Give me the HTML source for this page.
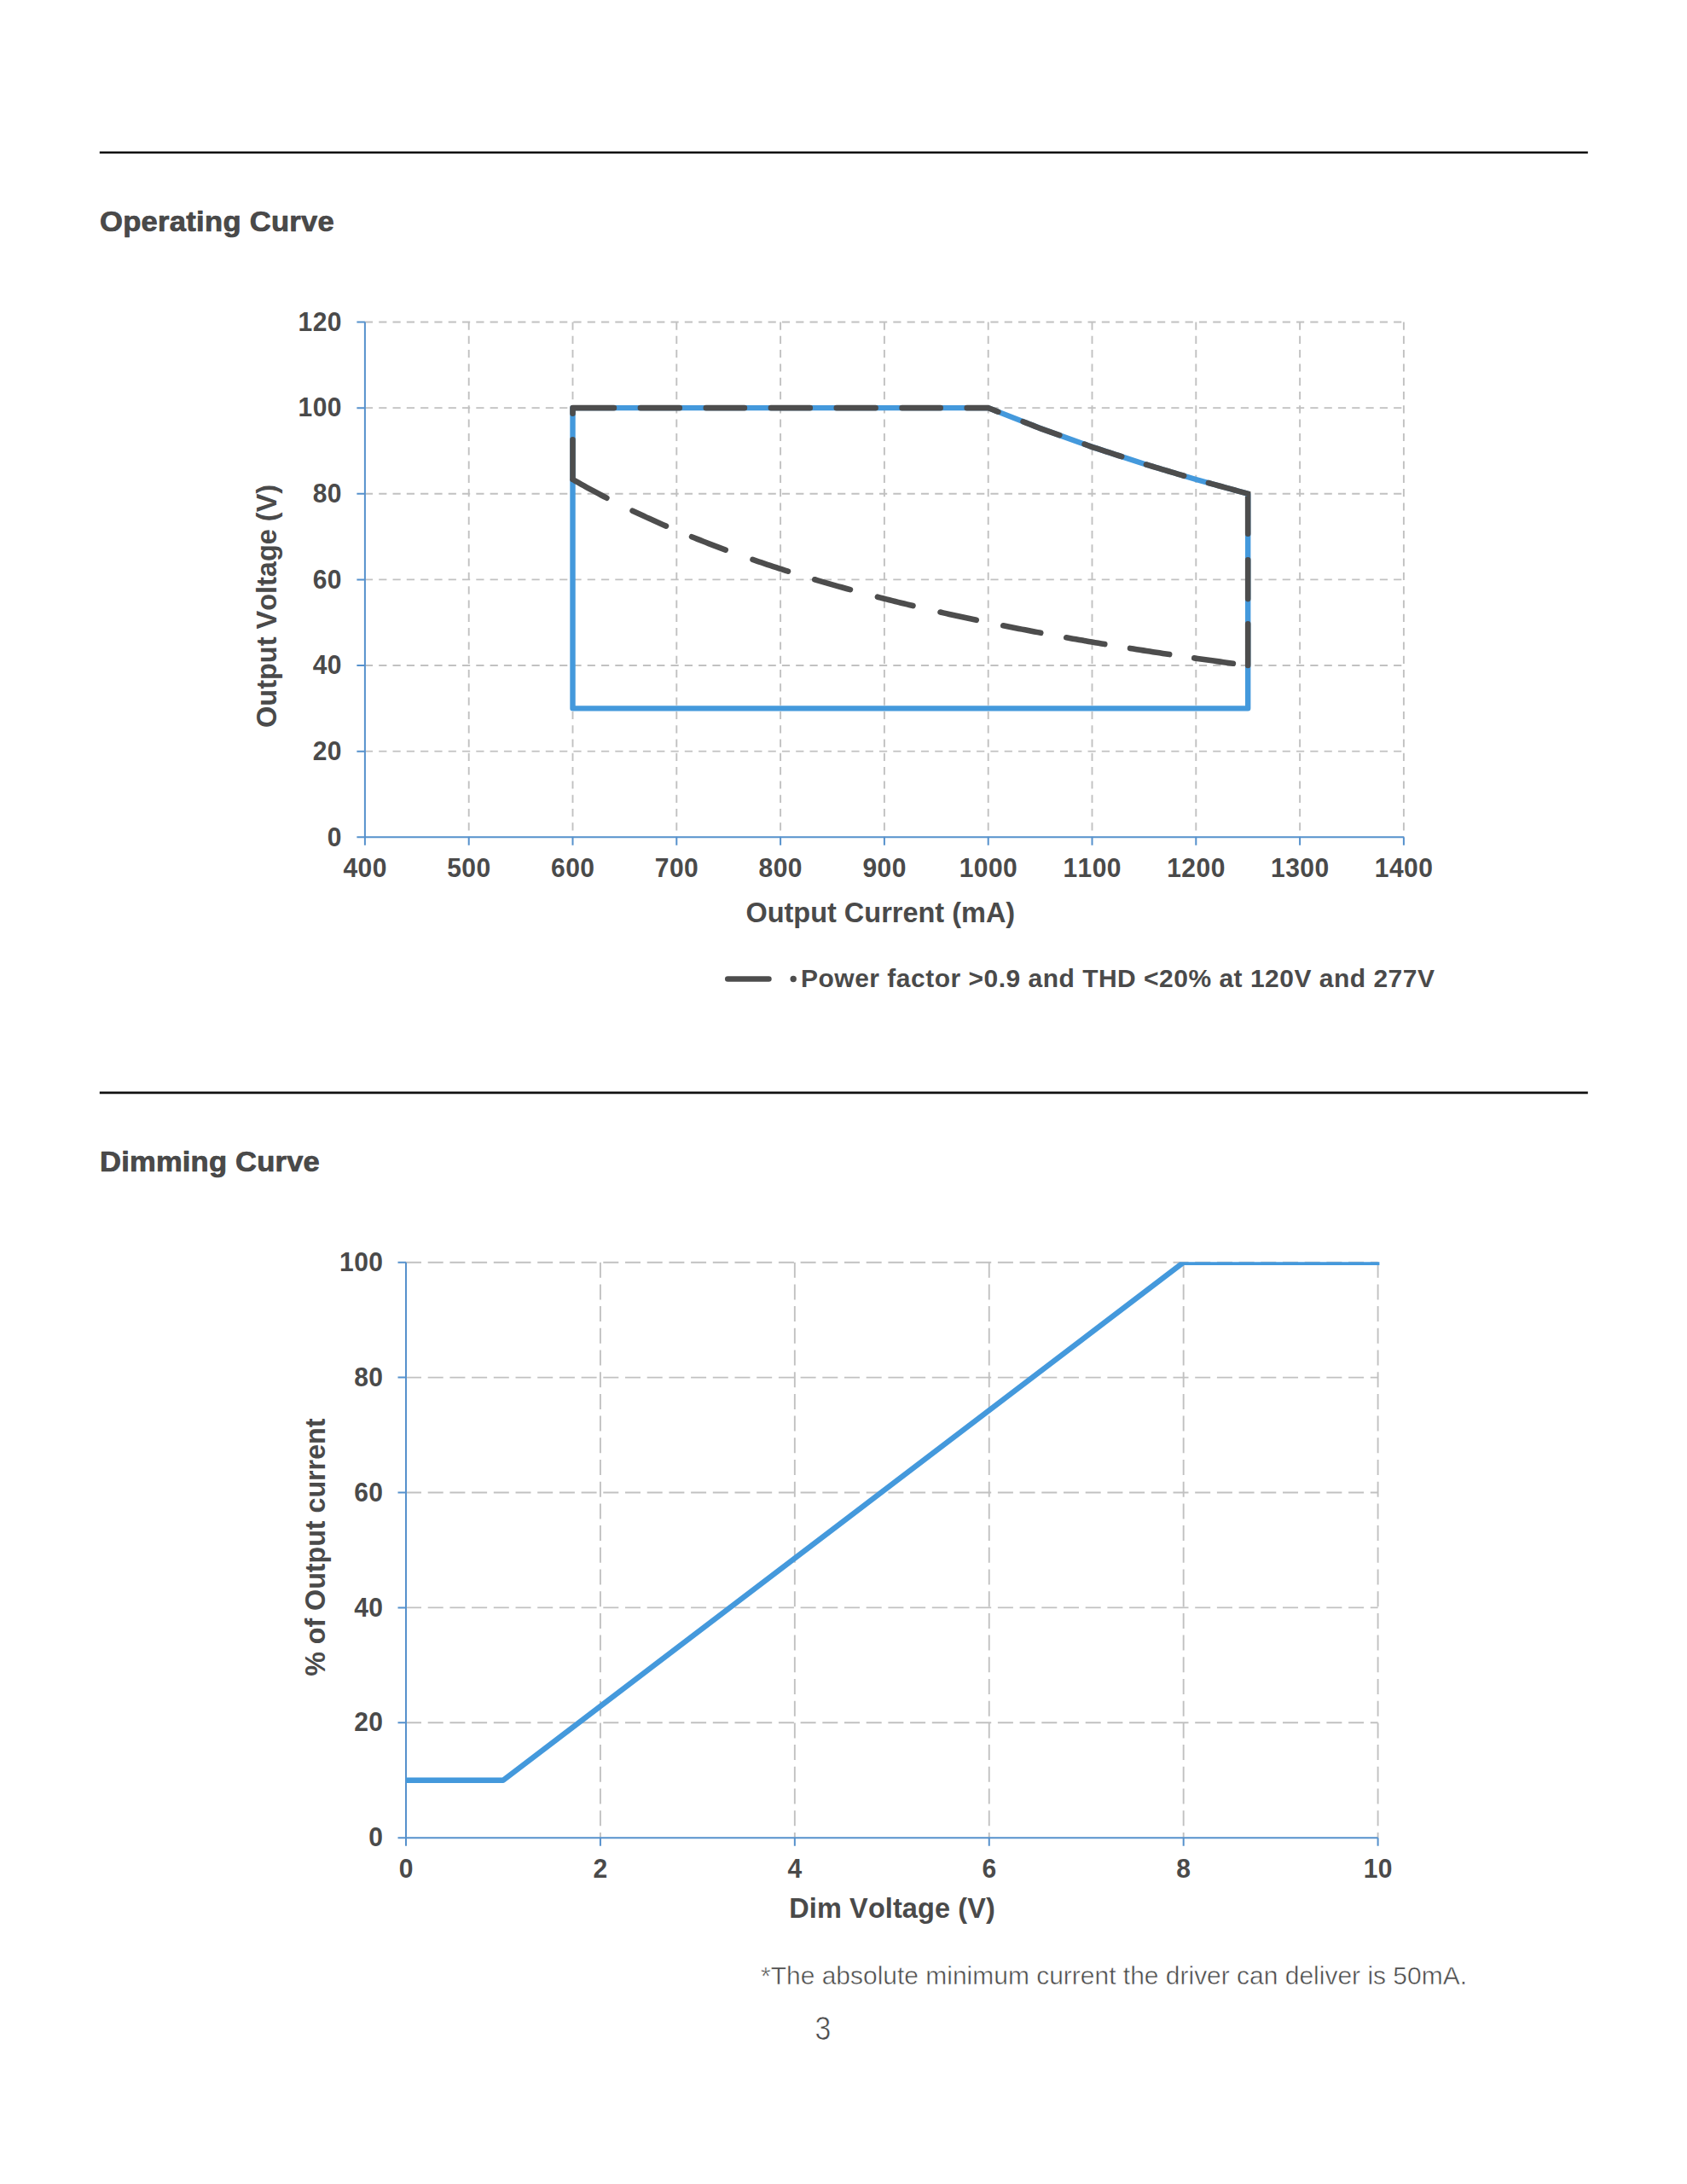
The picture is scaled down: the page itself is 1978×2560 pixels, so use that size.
<!DOCTYPE html>
<html lang="en"><head><meta charset="utf-8"><title>Operating Curve / Dimming Curve</title>
<style>html,body{margin:0;padding:0;background:#fff}body{width:1978px;height:2560px;overflow:hidden}svg{display:block}text{font-family:"Liberation Sans", sans-serif;fill:#4a4a4a;font-kerning:none;font-variant-ligatures:none}.b{font-weight:bold}</style>
</head><body>
<svg width="1978" height="2560" viewBox="0 0 1978 2560">
<rect width="1978" height="2560" fill="#fff"/>
<line x1="116.8" y1="178.7" x2="1861.8" y2="178.7" stroke="#111" stroke-width="2.6"/>
<line x1="116.8" y1="1280.9" x2="1861.8" y2="1280.9" stroke="#111" stroke-width="2.6"/>
<text transform="translate(117 271.1) scale(1 0.96)" font-size="34.6" letter-spacing="0.27" fill="#3a3a3a" class="b" stroke="#3a3a3a" stroke-width="0.7" stroke-linejoin="round">Operating Curve</text>
<text transform="translate(117 1373.2) scale(1 0.96)" font-size="34.6" letter-spacing="0.18" fill="#3a3a3a" class="b" stroke="#3a3a3a" stroke-width="0.7" stroke-linejoin="round">Dimming Curve</text>
<g id="chart1">
<path d="M427.9 880.67 H1645.9 M427.9 780.03 H1645.9 M427.9 679.4 H1645.9 M427.9 578.77 H1645.9 M427.9 478.13 H1645.9 M427.9 377.5 H1645.9 M549.7 377.5 V981.3 M671.5 377.5 V981.3 M793.3 377.5 V981.3 M915.1 377.5 V981.3 M1036.9 377.5 V981.3 M1158.7 377.5 V981.3 M1280.5 377.5 V981.3 M1402.3 377.5 V981.3 M1524.1 377.5 V981.3 M1645.9 377.5 V981.3" fill="none" stroke="#c1c1c1" stroke-width="1.9" stroke-dasharray="9.2 7.1"/>
<path d="M427.9 377.5 V981.3 M427.9 981.3 H1645.9 M418.4 981.3 H427.9 M418.4 880.67 H427.9 M418.4 780.03 H427.9 M418.4 679.4 H427.9 M418.4 578.77 H427.9 M418.4 478.13 H427.9 M418.4 377.5 H427.9 M427.9 981.3 V990.8 M549.7 981.3 V990.8 M671.5 981.3 V990.8 M793.3 981.3 V990.8 M915.1 981.3 V990.8 M1036.9 981.3 V990.8 M1158.7 981.3 V990.8 M1280.5 981.3 V990.8 M1402.3 981.3 V990.8 M1524.1 981.3 V990.8 M1645.9 981.3 V990.8" fill="none" stroke="#5691cc" stroke-width="2"/>
<path d="M671.5 478.13 L1158.7 478.13 L1219.6 502.09 L1280.5 523.88 L1341.4 543.76 L1402.3 561.99 L1463.2 578.77 L1463.2 830.35 L671.5 830.35 Z" fill="none" stroke="#4499dc" stroke-width="6.4" stroke-linejoin="round"/>
<path d="M671.5 478.13 L719.9 478.13 M750.9 478.13 L796.8 478.13 M827.8 478.13 L872.9 478.13 M903.9 478.13 L949.8 478.13 M980.8 478.13 L1026.6 478.13 M1057.6 478.13 L1102.7 478.13 M1133.7 478.13 L1158.7 478.13 L1159.67 478.52 L1160.64 478.9 L1161.61 479.28 L1162.58 479.66 L1163.55 480.04 L1164.52 480.42 L1165.48 480.8 L1166.45 481.18 L1167.42 481.57 L1168.39 481.95 L1169.36 482.33 L1170.33 482.71 M1199.57 494.21 L1203.13 495.61 L1206.69 497.01 L1210.25 498.42 L1213.81 499.82 L1217.37 501.22 L1220.93 502.57 L1224.49 503.84 L1228.05 505.12 L1231.61 506.39 L1235.17 507.66 L1238.73 508.94 L1242.29 510.21 M1271.61 520.7 L1275.24 521.99 L1278.87 523.29 L1282.5 524.53 L1286.13 525.71 L1289.76 526.9 L1293.39 528.08 L1297.01 529.27 L1300.64 530.45 L1304.27 531.64 L1307.9 532.82 L1311.53 534.01 L1315.16 535.2 M1343.94 544.52 L1347.62 545.63 L1351.3 546.73 L1354.99 547.83 L1358.67 548.93 L1362.35 550.04 L1366.04 551.14 L1369.72 552.24 L1373.4 553.34 L1377.09 554.45 L1380.77 555.55 L1384.46 556.65 L1388.14 557.76 M1416.88 566.01 L1420.74 567.07 L1424.59 568.13 L1428.45 569.2 L1432.31 570.26 L1436.16 571.32 L1440.02 572.38 L1443.87 573.44 L1447.73 574.51 L1451.59 575.57 L1455.44 576.63 L1459.3 577.69 L1463.15 578.75 L1463.2 625.7 M1463.2 656.3 L1463.2 702.1 M1463.2 731.2 L1463.2 780.03 M671.5 561.99 L671.5 515.3 M671.5 484.7 L671.5 478.13 M671.5 561.99 L674.72 563.83 L678.05 565.72 L681.38 567.59 L684.71 569.44 L688.04 571.28 L691.37 573.1 L694.71 574.9 L698.04 576.69 L701.37 578.46 L704.7 580.22 L708.03 581.96 L711.36 583.68 M741.57 598.68 L744.86 600.24 L748.14 601.79 L751.42 603.33 L754.71 604.85 L757.99 606.37 L761.27 607.87 L764.55 609.36 L767.84 610.83 L771.12 612.3 L774.4 613.75 L777.69 615.19 L780.97 616.62 M811.06 629.23 L814.36 630.56 L817.66 631.88 L820.97 633.19 L824.27 634.49 L827.58 635.79 L830.88 637.07 L834.18 638.34 L837.49 639.6 L840.79 640.86 L844.09 642.1 L847.4 643.34 L850.7 644.57 M882.52 655.94 L885.97 657.13 L889.42 658.31 L892.88 659.48 L896.33 660.64 L899.78 661.8 L903.23 662.94 L906.69 664.08 L910.14 665.21 L913.59 666.33 L917.05 667.45 L920.5 668.55 L923.95 669.65 M955.26 679.27 L958.73 680.3 L962.2 681.32 L965.68 682.34 L969.15 683.35 L972.62 684.35 L976.09 685.35 L979.56 686.33 L983.03 687.32 L986.5 688.29 L989.97 689.26 L993.45 690.22 L996.92 691.18 M1028.89 699.71 L1032.36 700.6 L1035.83 701.49 L1039.29 702.37 L1042.76 703.25 L1046.23 704.12 L1049.69 704.99 L1053.16 705.85 L1056.62 706.7 L1060.09 707.55 L1063.56 708.4 L1067.02 709.24 L1070.49 710.07 M1102.52 717.55 L1106.04 718.35 L1109.56 719.14 L1113.08 719.93 L1116.6 720.71 L1120.12 721.49 L1123.64 722.26 L1127.17 723.03 L1130.69 723.79 L1134.21 724.55 L1137.73 725.31 L1141.25 726.06 L1144.77 726.81 M1176.23 733.29 L1179.9 734.02 L1183.57 734.75 L1187.24 735.48 L1190.91 736.2 L1194.58 736.92 L1198.25 737.63 L1201.91 738.34 L1205.58 739.04 L1209.25 739.74 L1212.92 740.44 L1216.59 741.13 L1220.26 741.82 M1250.25 747.3 L1254 747.97 L1257.75 748.64 L1261.5 749.3 L1265.25 749.95 L1269 750.61 L1272.75 751.26 L1276.5 751.9 L1280.25 752.54 L1284 753.18 L1287.75 753.82 L1291.49 754.45 L1295.24 755.08 M1325.06 759.95 L1328.9 760.56 L1332.74 761.17 L1336.58 761.78 L1340.42 762.38 L1344.26 762.98 L1348.1 763.57 L1351.94 764.17 L1355.78 764.75 L1359.62 765.34 L1363.46 765.92 L1367.3 766.5 L1371.14 767.08 M1400.27 771.36 L1404.06 771.9 L1407.86 772.44 L1411.66 772.98 L1415.45 773.52 L1419.25 774.05 L1423.05 774.58 L1426.84 775.11 L1430.64 775.64 L1434.44 776.16 L1438.24 776.68 L1442.03 777.2 L1445.83 777.71" fill="none" stroke="#4d4d4d" stroke-width="6.6" stroke-linecap="round" stroke-linejoin="miter"/>
<text transform="translate(400.9 991.5) scale(1 1.02)" font-size="30" text-anchor="end" letter-spacing="0.45" class="b">0</text>
<text transform="translate(400.9 890.87) scale(1 1.02)" font-size="30" text-anchor="end" letter-spacing="0.45" class="b">20</text>
<text transform="translate(400.9 790.23) scale(1 1.02)" font-size="30" text-anchor="end" letter-spacing="0.45" class="b">40</text>
<text transform="translate(400.9 689.6) scale(1 1.02)" font-size="30" text-anchor="end" letter-spacing="0.45" class="b">60</text>
<text transform="translate(400.9 588.97) scale(1 1.02)" font-size="30" text-anchor="end" letter-spacing="0.45" class="b">80</text>
<text transform="translate(400.9 488.33) scale(1 1.02)" font-size="30" text-anchor="end" letter-spacing="0.45" class="b">100</text>
<text transform="translate(400.9 387.7) scale(1 1.02)" font-size="30" text-anchor="end" letter-spacing="0.45" class="b">120</text>
<text transform="translate(428.1 1028.2) scale(1 1.02)" font-size="30" text-anchor="middle" letter-spacing="0.45" class="b">400</text>
<text transform="translate(549.9 1028.2) scale(1 1.02)" font-size="30" text-anchor="middle" letter-spacing="0.45" class="b">500</text>
<text transform="translate(671.7 1028.2) scale(1 1.02)" font-size="30" text-anchor="middle" letter-spacing="0.45" class="b">600</text>
<text transform="translate(793.5 1028.2) scale(1 1.02)" font-size="30" text-anchor="middle" letter-spacing="0.45" class="b">700</text>
<text transform="translate(915.3 1028.2) scale(1 1.02)" font-size="30" text-anchor="middle" letter-spacing="0.45" class="b">800</text>
<text transform="translate(1037.1 1028.2) scale(1 1.02)" font-size="30" text-anchor="middle" letter-spacing="0.45" class="b">900</text>
<text transform="translate(1158.9 1028.2) scale(1 1.02)" font-size="30" text-anchor="middle" letter-spacing="0.45" class="b">1000</text>
<text transform="translate(1280.7 1028.2) scale(1 1.02)" font-size="30" text-anchor="middle" letter-spacing="0.45" class="b">1100</text>
<text transform="translate(1402.5 1028.2) scale(1 1.02)" font-size="30" text-anchor="middle" letter-spacing="0.45" class="b">1200</text>
<text transform="translate(1524.3 1028.2) scale(1 1.02)" font-size="30" text-anchor="middle" letter-spacing="0.45" class="b">1300</text>
<text transform="translate(1646.1 1028.2) scale(1 1.02)" font-size="30" text-anchor="middle" letter-spacing="0.45" class="b">1400</text>
<text transform="translate(1032.3 1081.3) scale(1 1.02)" font-size="32.5" text-anchor="middle" class="b">Output Current (mA)</text>
<text transform="translate(323.8 710.4) rotate(-90) scale(1 1.02)" font-size="32.5" text-anchor="middle" class="b">Output Voltage (V)</text>
<path d="M853.3 1147.5 H901.4" stroke="#4d4d4d" stroke-width="6.6" stroke-linecap="round" fill="none"/>
<circle cx="930.2" cy="1147.5" r="3.7" fill="#4d4d4d"/>
<text transform="translate(939 1157) scale(1 0.98)" font-size="30" letter-spacing="0.5" class="b">Power factor &gt;0.9 and THD &lt;20% at 120V and 277V</text>
</g>
<g id="chart2">
<clipPath id="cp2"><rect x="476" y="1479.3" width="1141.4" height="674.9"/></clipPath>
<path d="M476 2019.3 H1615.6 M476 1884.4 H1615.6 M476 1749.5 H1615.6 M476 1614.6 H1615.6 M476 1479.7 H1615.6 M703.92 1479.7 V2154.2 M931.84 1479.7 V2154.2 M1159.76 1479.7 V2154.2 M1387.68 1479.7 V2154.2 M1615.6 1479.7 V2154.2" fill="none" stroke="#c1c1c1" stroke-width="1.9" stroke-dasharray="18 7.7"/>
<path d="M476 1479.7 V2154.2 M476 2154.2 H1615.6 M466.5 2154.2 H476 M466.5 2019.3 H476 M466.5 1884.4 H476 M466.5 1749.5 H476 M466.5 1614.6 H476 M466.5 1479.7 H476 M476 2154.2 V2163.7 M703.92 2154.2 V2163.7 M931.84 2154.2 V2163.7 M1159.76 2154.2 V2163.7 M1387.68 2154.2 V2163.7 M1615.6 2154.2 V2163.7" fill="none" stroke="#5691cc" stroke-width="2"/>
<path d="M476 2086.75 L589.96 2086.75 L1387.68 1479.7 L1627 1479.7" fill="none" stroke="#4499dc" stroke-width="6.4" stroke-linejoin="round" clip-path="url(#cp2)"/>
<text transform="translate(449.4 2164.3) scale(1 1.02)" font-size="30" text-anchor="end" letter-spacing="0.45" class="b">0</text>
<text transform="translate(449.4 2029.4) scale(1 1.02)" font-size="30" text-anchor="end" letter-spacing="0.45" class="b">20</text>
<text transform="translate(449.4 1894.5) scale(1 1.02)" font-size="30" text-anchor="end" letter-spacing="0.45" class="b">40</text>
<text transform="translate(449.4 1759.6) scale(1 1.02)" font-size="30" text-anchor="end" letter-spacing="0.45" class="b">60</text>
<text transform="translate(449.4 1624.7) scale(1 1.02)" font-size="30" text-anchor="end" letter-spacing="0.45" class="b">80</text>
<text transform="translate(449.4 1489.8) scale(1 1.02)" font-size="30" text-anchor="end" letter-spacing="0.45" class="b">100</text>
<text transform="translate(476.2 2201.2) scale(1 1.02)" font-size="30" text-anchor="middle" letter-spacing="0.45" class="b">0</text>
<text transform="translate(704.12 2201.2) scale(1 1.02)" font-size="30" text-anchor="middle" letter-spacing="0.45" class="b">2</text>
<text transform="translate(932.04 2201.2) scale(1 1.02)" font-size="30" text-anchor="middle" letter-spacing="0.45" class="b">4</text>
<text transform="translate(1159.96 2201.2) scale(1 1.02)" font-size="30" text-anchor="middle" letter-spacing="0.45" class="b">6</text>
<text transform="translate(1387.88 2201.2) scale(1 1.02)" font-size="30" text-anchor="middle" letter-spacing="0.45" class="b">8</text>
<text transform="translate(1615.8 2201.2) scale(1 1.02)" font-size="30" text-anchor="middle" letter-spacing="0.45" class="b">10</text>
<text transform="translate(1046.1 2247.7) scale(1 1.02)" font-size="32.5" text-anchor="middle" letter-spacing="0.1" class="b">Dim Voltage (V)</text>
<text transform="translate(380.6 1813.7) rotate(-90) scale(1 1.02)" font-size="32.2" text-anchor="middle" class="b">% of Output current</text>
</g>
<text transform="translate(892 2325.5)" font-size="29.5" fill="#2f2f2f" textLength="828" lengthAdjust="spacingAndGlyphs" stroke="#fff" stroke-width="0.5">*The absolute minimum current the driver can deliver is 50mA.</text>
<text transform="translate(964.9 2390.8) scale(0.89 1)" font-size="38" text-anchor="middle" fill="#2f2f2f" stroke="#fff" stroke-width="0.7">3</text>
</svg></body></html>
